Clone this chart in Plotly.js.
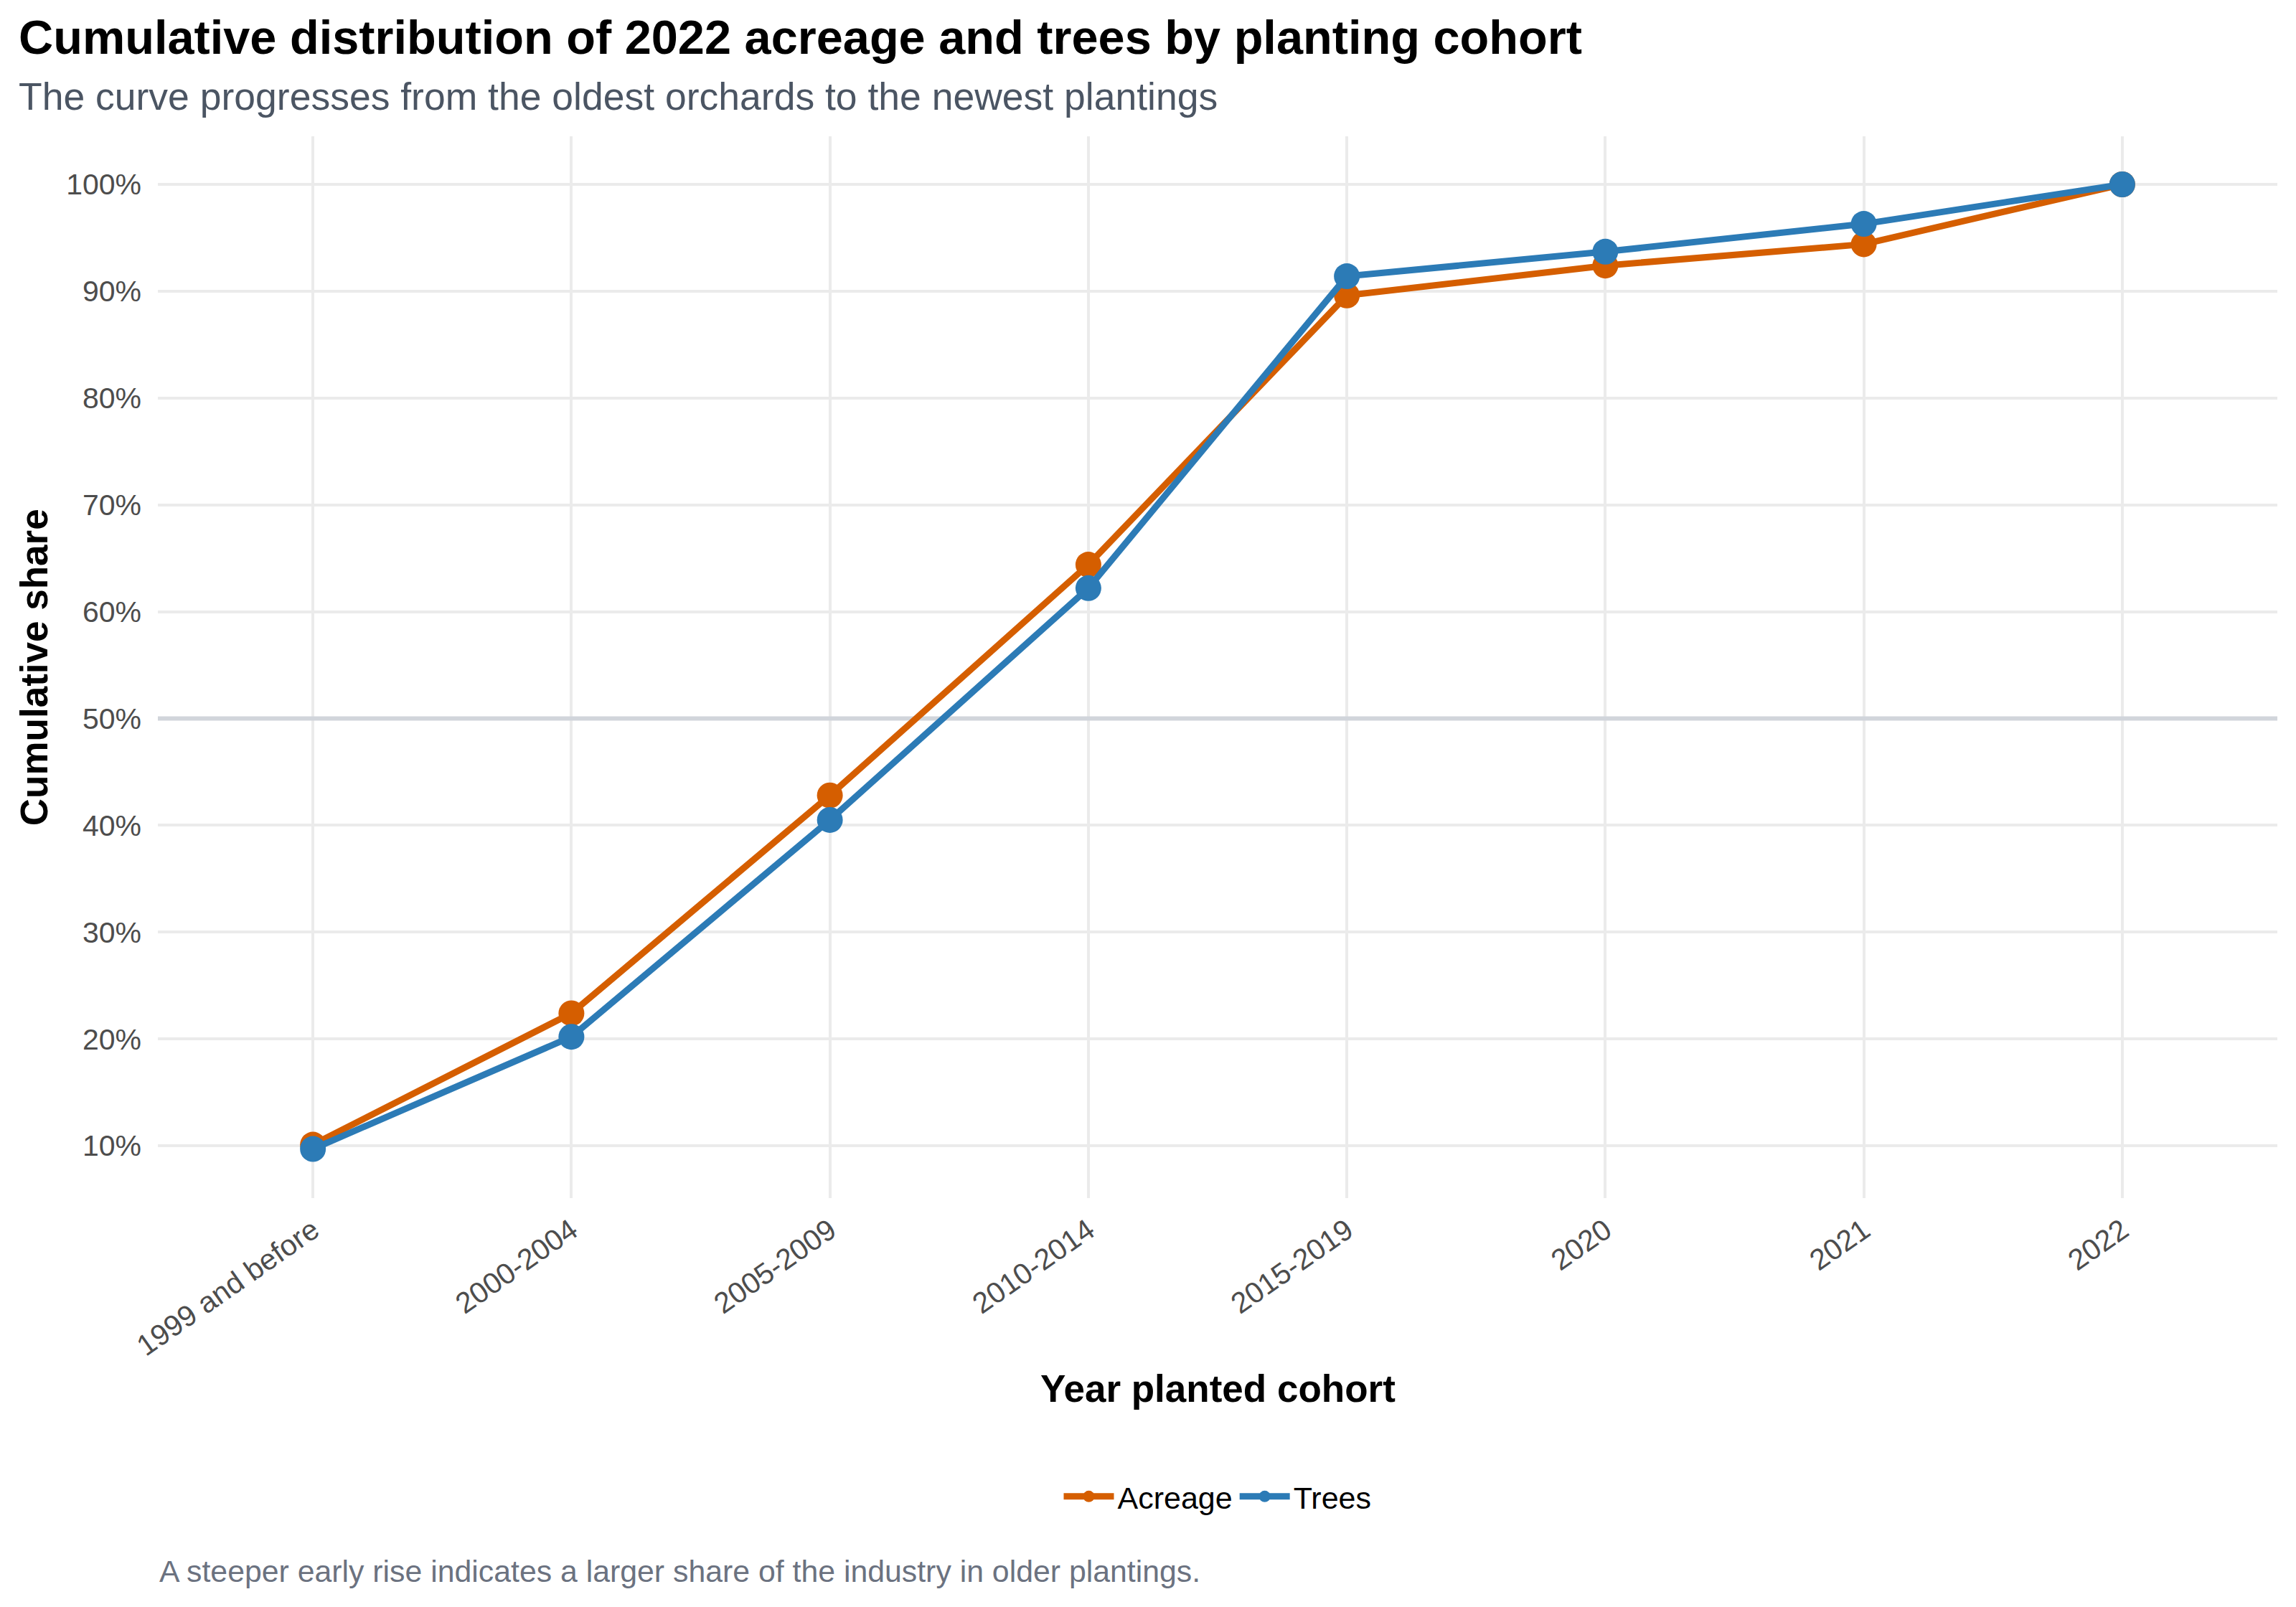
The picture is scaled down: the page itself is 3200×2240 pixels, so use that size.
<!DOCTYPE html>
<html><head><meta charset="utf-8">
<script src="https://cdn.plot.ly/plotly-3.0.1.min.js"></script>
<style>html,body{margin:0;padding:0;background:#fff}#chart{width:3200px;height:2240px}</style>
</head><body><div id="chart"></div>
<script>
// Data
const cohorts = ["1999 and before","2000-2004","2005-2009","2010-2014","2015-2019","2020","2021","2022"];
const acreageShare = [0.101, 0.224, 0.428, 0.644, 0.896, 0.924, 0.944, 1.000];
const treesShare   = [0.097, 0.202, 0.405, 0.622, 0.914, 0.937, 0.963, 1.000];
const seriesNames = ["Acreage", "Trees"];
const yTickVals = [0.1, 0.2, 0.3, 0.4, 0.5, 0.6, 0.7, 0.8, 0.9, 1.0];
const yTickText = ["10%","20%","30%","40%","50%","60%","70%","80%","90%","100%"];
const referenceShare = 0.5;
const referenceSpan = [0, 1];

const FONT = "Liberation Sans, Arial, Helvetica, sans-serif";
const ORANGE = "#D55E00";
const BLUE = "#2C7BB6";

const traces = [
  {x: referenceSpan, y: referenceSpan.map(() => referenceShare), xaxis: "x", yaxis: "y",
   type: "scatter", mode: "lines", showlegend: false, hoverinfo: "skip",
   line: {color: "#d1d5db", width: 6}},
  {x: cohorts, y: acreageShare, name: seriesNames[0], type: "scatter", mode: "lines+markers",
   xaxis: "x2", yaxis: "y",
   line: {color: ORANGE, width: 9}, marker: {color: ORANGE, size: 36}},
  {x: cohorts, y: treesShare, name: seriesNames[1], type: "scatter", mode: "lines+markers",
   xaxis: "x2", yaxis: "y",
   line: {color: BLUE, width: 9}, marker: {color: BLUE, size: 36}}
];

const layout = {
  width: 3200, height: 2240,
  paper_bgcolor: "#ffffff", plot_bgcolor: "#ffffff",
  margin: {l: 220, r: 26, t: 190, b: 570, pad: 0},
  font: {family: FONT, color: "#000000"},
  showlegend: true,
  hovermode: false,
  xaxis: {
    range: [0, 1], visible: false, showgrid: false, zeroline: false, fixedrange: true
  },
  xaxis2: {
    overlaying: "x", side: "bottom",
    type: "category", range: [-0.6, 7.6],
    showgrid: true, gridcolor: "#ebebeb", gridwidth: 4,
    zeroline: false, showline: false, ticks: "",
    tickangle: -35, ticklabelstandoff: 12,
    tickfont: {family: FONT, size: 41, color: "#4d4d4d"},
    fixedrange: true
  },
  yaxis: {
    range: [0.051, 1.045],
    tickvals: yTickVals, ticktext: yTickText,
    showgrid: true, gridcolor: "#ebebeb", gridwidth: 4,
    zeroline: false, showline: false, ticks: "",
    ticklabelstandoff: 22,
    tickfont: {family: FONT, size: 41, color: "#4d4d4d"},
    fixedrange: true
  },
  legend: {
    orientation: "h", x: 0.5, xanchor: "center", y: -0.281, yanchor: "middle",
    font: {family: FONT, size: 43, color: "#000000"},
    itemwidth: 70, traceorder: "normal", bgcolor: "rgba(0,0,0,0)"
  },
  annotations: [
    {text: "<b>Cumulative distribution of 2022 acreage and trees by planting cohort</b>",
     xref: "paper", yref: "paper", x: -0.0663, y: 1.0932, xanchor: "left", yanchor: "middle",
     showarrow: false, font: {family: FONT, size: 66.7, color: "#000000"}},
    {text: "The curve progresses from the oldest orchards to the newest plantings",
     xref: "paper", yref: "paper", x: -0.0663, y: 1.0375, xanchor: "left", yanchor: "middle",
     showarrow: false, font: {family: FONT, size: 53.5, color: "#4b5563"}},
    {text: "<b>Year planted cohort</b>",
     xref: "paper", yref: "paper", x: 0.5, y: -0.1797, xanchor: "center", yanchor: "middle",
     showarrow: false, font: {family: FONT, size: 53, color: "#000000"}},
    {text: "<b>Cumulative share</b>",
     xref: "paper", yref: "paper", x: -0.0585, y: 0.5, xanchor: "center", yanchor: "middle",
     textangle: -90, showarrow: false, font: {family: FONT, size: 53, color: "#000000"}},
    {text: "A steeper early rise indicates a larger share of the industry in older plantings.",
     xref: "paper", yref: "paper", x: 0, y: -0.3514, xanchor: "left", yanchor: "middle",
     showarrow: false, font: {family: FONT, size: 42.8, color: "#6b7280"}}
  ]
};

Plotly.newPlot("chart", traces, layout, {staticPlot: true, displayModeBar: false});
</script>
</body></html>
